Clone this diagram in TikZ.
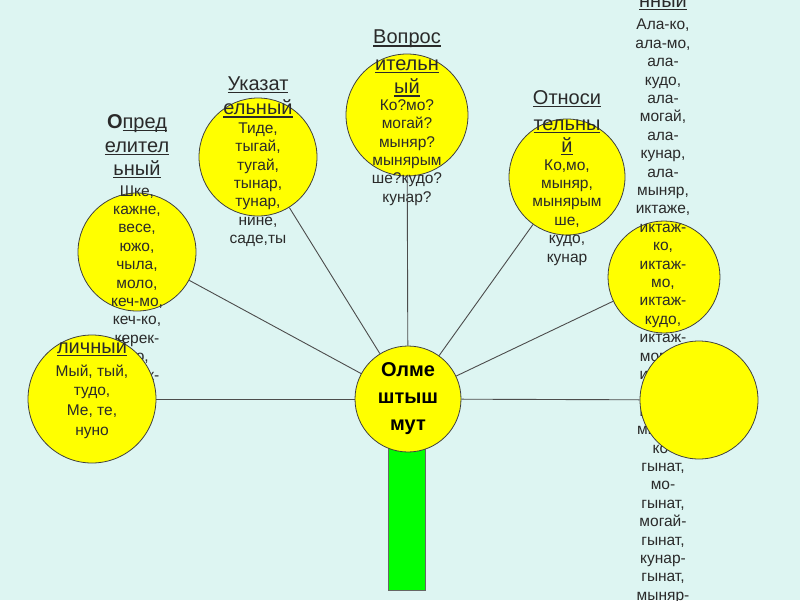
\documentclass[tikz,border=0pt]{standalone}
\usepackage{fontspec}
\setmainfont{Liberation Sans}
\usetikzlibrary{positioning}

\definecolor{bgcyan}{HTML}{DDF5F2}
\definecolor{petal}{HTML}{FFFF00}
\definecolor{stemgreen}{HTML}{00FF00}
\definecolor{ink}{HTML}{2A2A2A}

\newsavebox\ulbox
\newcommand\ulw[1]{\sbox\ulbox{#1}\rlap{\rule[-2.6pt]{\wd\ulbox}{1.2pt}}\usebox\ulbox}
\newcommand\ttlsz{\fontsize{20}{23.5}\selectfont}
\newcommand\ttl[1]{{\ttlsz\ulw{#1}}}

\begin{document}
\begin{tikzpicture}[x=1pt, y=-1pt,
  disc/.style={draw=black!75, fill=petal, circle, inner sep=0pt,
               line width=0.8pt},
  hub/.style={disc, align=center, font=\bfseries\fontsize{20}{27}\selectfont},
  spoke/.style={draw=black!70, line width=0.9pt},
  col/.style={align=center, anchor=north, inner sep=0pt, text=ink,
              font=\fontsize{15.5}{18.4}\selectfont},
  colwide/.style={col, font=\fontsize{15.5}{19.7}\selectfont}
]
  \useasboundingbox (0,0) rectangle (800,600);
  \clip (0,0) rectangle (800,600);
  \fill[bgcyan] (0,0) rectangle (800,600);

  % petals
  \node[disc, minimum size=118pt] (opr) at (137,252) {};
  \node[disc, minimum size=118pt] (uk)  at (258,157) {};
  \node[disc, minimum size=122pt] (vop) at (407,115) {};
  \node[disc, minimum size=116pt] (otn) at (567,177) {};
  \node[disc, minimum size=112pt] (ur)  at (664,277) {};

  % stem and centre
  \draw[fill=stemgreen, draw=black!60, line width=0.8pt] (388,430) rectangle (425,590);
  \node[hub, minimum size=106pt] (hub) at (408,399) {Олме\\штыш\\мут};

  % texts
  \node[col] (oprtxt) at (137,114.5)
    {{\ttlsz\textbf{О}\ulw{пред}}\\[5.1pt]\ttl{елител}\\[5.1pt]\ttl{ьный}\\[2pt]
     Шке,\\кажне,\\весе,\\южо,\\чыла,\\моло,\\кеч-мо,\\кеч-ко,\\керек-\\мо,\\керек-\\ко};
  \node[col] (uktxt) at (258,76.5)
    {\ttl{Указат}\\[6.1pt]\ttl{ельный}\\[0pt]
     Тиде,\\тыгай,\\тугай,\\тынар,\\тунар,\\нине,\\саде,ты};
  \node[col] (voptxt) at (407,30)
    {\ttl{Вопрос}\\[8.1pt]\ttl{ительн}\\[5.1pt]\ttl{ый}\\[-2pt]
     Ко?мо?\\могай?\\мыняр?\\мынярым\\ше?кудо?\\кунар?};
  \node[col] (otntxt) at (567,90.5)
    {\ttl{Относи}\\[7.1pt]\ttl{тельны}\\[4.1pt]\ttl{й}\\[-1pt]
     Ко,мо,\\мыняр,\\мынярым\\ше,\\кудо,\\кунар};
  \node[col] (neotxt) at (663,-7.5)
    {\ttl{нный}\\[4pt]
     Ала-ко,\\ала-мо,\\ала-\\кудо,\\ала-\\могай,\\ала-\\кунар,\\ала-\\мыняр,\\
     иктаже,\\иктаж-\\ко,\\иктаж-\\мо,\\иктаж-\\кудо,\\иктаж-\\могай,\\
     иктаж-\\кунар,\\иктаж-\\мыняр,\\ко-\\гынат,\\мо-\\гынат,\\могай-\\гынат,\\
     кунар-\\гынат,\\мыняр-};

  % petals on top of the long lists
  \node[disc, minimum size=128pt] (pers) at (92,399) {};
  \node[colwide] (perstxt) at (92,338.5)
    {\ttl{личный}\\[3pt]Мый, тый,\\тудо,\\Ме, те,\\нуно};
  \node[disc, minimum size=118pt] (lr) at (699,400) {};

  % spokes
  \draw[spoke] (hub) -- (pers);
  \draw[spoke] (hub) -- (opr);
  \draw[spoke] (hub) -- (uk);
  \draw[spoke] (hub) -- (vop);
  \draw[spoke] (hub) -- (otn);
  \draw[spoke] (hub) -- (ur);
  \draw[spoke] (hub) -- (lr);
\end{tikzpicture}
\end{document}
